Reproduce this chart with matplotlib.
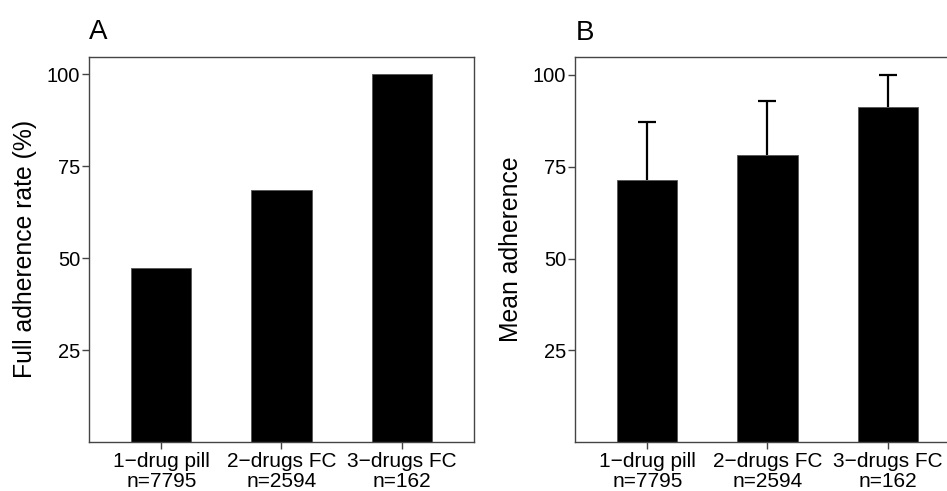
import matplotlib
matplotlib.use("Agg")
import matplotlib.pyplot as plt

plt.rcParams['font.family'] = ['Liberation Sans', 'DejaVu Sans']

categories = ["1\u2212drug pill\nn=7795", "2\u2212drugs FC\nn=2594", "3\u2212drugs FC\nn=162"]
full_adherence = [47.4, 68.5, 100.0]
mean_adherence = [71.4, 78.2, 91.3]
mean_adherence_err = [15.8, 14.6, 8.7]
yticks = [25, 50, 75, 100]

fig = plt.figure(figsize=(9.47, 4.91), dpi=100)
axA = fig.add_axes([0.0943, 0.1004, 0.4059, 0.7841])
axB = fig.add_axes([0.6075, 0.1004, 0.4059, 0.7828])

spine_col = '#444444'
x = [1, 2, 3]

def style(ax, ylabel, letter):
    ax.set_xlim(0.4, 3.6)
    ax.set_ylim(0.2, 104.7)
    ax.set_yticks(yticks)
    ax.set_xticks(x)
    ax.set_xticklabels(categories, fontsize=15, linespacing=1.05)
    ax.tick_params(axis='y', labelsize=14.5, length=5, width=1, color=spine_col, pad=1.5)
    ax.tick_params(axis='x', length=5, width=1, color=spine_col, pad=2.5)
    for s in ax.spines.values():
        s.set_color(spine_col)
        s.set_linewidth(1.0)
    ax.set_ylabel(ylabel, fontsize=17.8, labelpad=7)
    ax.text(0.0, 1.046, letter, transform=ax.transAxes, fontsize=20,
            ha='left', va='baseline')

axA.bar(x, full_adherence, width=0.5, color='black', edgecolor='#555555', linewidth=0.6)
style(axA, "Full adherence rate (%)", "A")

axB.bar(x, mean_adherence, width=0.5, color='black', edgecolor='#555555', linewidth=0.6)
eb = axB.errorbar(x, mean_adherence, yerr=[[0, 0, 0], mean_adherence_err], fmt='none',
                  ecolor='black', elinewidth=1.6, capsize=6.5, capthick=1.6)
eb[1][0].set_visible(False)
style(axB, "Mean adherence", "B")

fig.savefig("out.png", dpi=100)
